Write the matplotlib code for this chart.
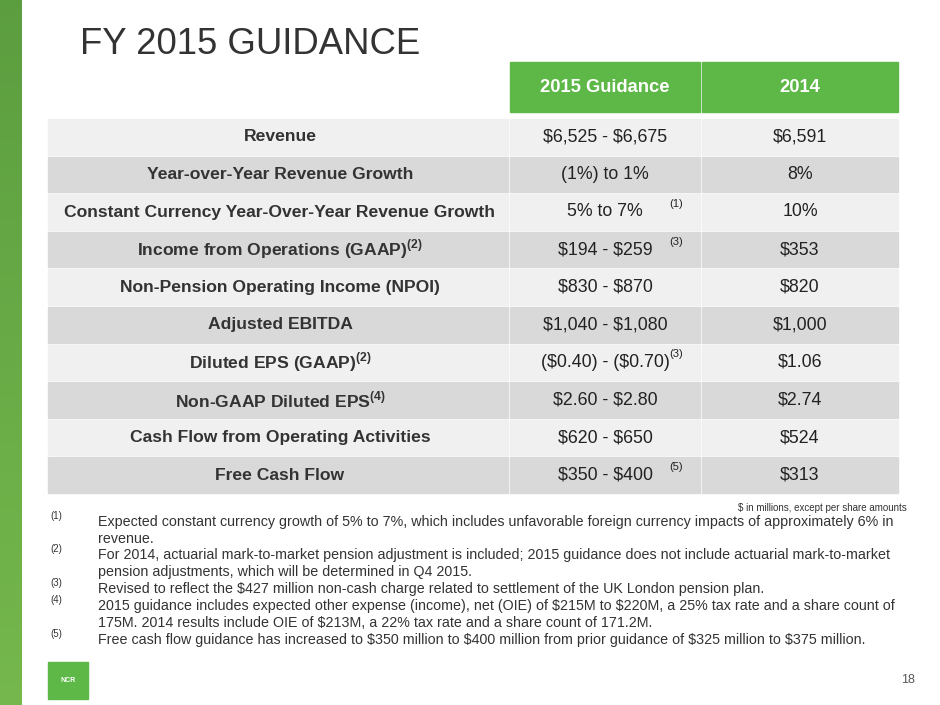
import matplotlib
matplotlib.use("Agg")
import matplotlib.pyplot as plt
from matplotlib.patches import Rectangle
import numpy as np

plt.rcParams['font.family'] = ['Liberation Sans', 'DejaVu Sans']
plt.rcParams['mathtext.fontset'] = 'custom'
plt.rcParams['mathtext.rm'] = 'Liberation Sans'
plt.rcParams['mathtext.bf'] = 'Liberation Sans:bold'

metrics = ["Revenue", "Year-over-Year Revenue Growth",
           "Constant Currency Year-Over-Year Revenue Growth",
           "Income from Operations (GAAP)$^{\\mathbf{(2)}}$",
           "Non-Pension Operating Income (NPOI)", "Adjusted EBITDA",
           "Diluted EPS (GAAP)$^{\\mathbf{(2)}}$", "Non-GAAP Diluted EPS$^{\\mathbf{(4)}}$",
           "Cash Flow from Operating Activities", "Free Cash Flow"]
guidance_2015 = ["\\$6,525 - \\$6,675", "(1%) to 1%", "5% to 7%", "\\$194 - \\$259",
                 "\\$830 - \\$870", "\\$1,040 - \\$1,080", "(\\$0.40) - (\\$0.70)",
                 "\\$2.60 - \\$2.80", "\\$620 - \\$650", "\\$350 - \\$400"]
guidance_notes = ["", "", "(1)", "(3)", "", "", "(3)", "", "", "(5)"]
actual_2014 = ["\\$6,591", "8%", "10%", "\\$353", "\\$820", "\\$1,000", "\\$1.06",
               "\\$2.74", "\\$524", "\\$313"]
headers = ["2015 Guidance", "2014"]
footnotes = [
    ("(1)", ["Expected constant currency growth of 5% to 7%, which includes unfavorable foreign currency impacts of approximately 6% in",
             "revenue."]),
    ("(2)", ["For 2014, actuarial mark-to-market pension adjustment is included; 2015 guidance does not include actuarial mark-to-market",
             "pension adjustments, which will be determined in Q4 2015."]),
    ("(3)", ["Revised to reflect the \\$427 million non-cash charge related to settlement of the UK London pension plan."]),
    ("(4)", ["2015 guidance includes expected other expense (income), net (OIE) of \\$215M to \\$220M, a 25% tax rate and a share count of",
             "175M. 2014 results include OIE of \\$213M, a 22% tax rate and a share count of 171.2M."]),
    ("(5)", ["Free cash flow guidance has increased to \\$350 million to \\$400 million from prior guidance of \\$325 million to \\$375 million."]),
]

GREEN = "#5db847"
fig = plt.figure(figsize=(9.4, 7.05), dpi=100)
ax = fig.add_axes([0, 0, 1, 1])
ax.set_xlim(0, 940); ax.set_ylim(705, 0); ax.axis('off')

grad = np.linspace(0, 1, 100).reshape(-1, 1)
ax.imshow(np.dstack([0.36 + 0.1*grad, 0.62 + 0.1*grad, 0.25 + 0.05*grad]),
          extent=(0, 22, 705, 0), aspect='auto')

ax.text(80, 44, "FY 2015 GUIDANCE", fontsize=26.3, color="#333333", va='center', ha='left')

cols = [(48, 508), (510, 700), (702, 898)]
for (x0, x1), h in zip(cols[1:], headers):
    ax.add_patch(Rectangle((x0, 62), x1 - x0, 50, color=GREEN))
    ax.text((x0 + x1) / 2, 87, h, color='white', fontsize=13.2, fontweight='bold', ha='center', va='center')

top, pitch = 119, 37.6
for i in range(len(metrics)):
    y0 = top + i * pitch
    c = "#f0f0f0" if i % 2 == 0 else "#d9d9d9"
    for x0, x1 in cols:
        ax.add_patch(Rectangle((x0, y0), x1 - x0, pitch - 2, color=c))
    yc = y0 + (pitch - 2) / 2
    ax.text((cols[0][0] + cols[0][1]) / 2 + 2, yc, metrics[i], fontsize=12.6, fontweight='bold',
            color="#333333", ha='center', va='center')
    ax.text(605, yc, guidance_2015[i], fontsize=12.8, color="#222222", ha='center', va='center')
    if guidance_notes[i]:
        ax.text(669, yc - 8, guidance_notes[i], fontsize=8, color="#222222", ha='left', va='center')
    ax.text(800, yc, actual_2014[i], fontsize=12.8, color="#222222", ha='center', va='center')

ax.text(907, 508, "\\$ in millions, except per share amounts", fontsize=7, color="#333333",
        ha='right', va='center')

line = 0
for m, lines in footnotes:
    y = 521.7 + 16.9 * line
    ax.text(50, y - 6, m, fontsize=7, color="#333333", ha='left', va='center')
    for t in lines:
        ax.text(98, 521.7 + 16.9 * line, t, fontsize=10.3, color="#333333", ha='left', va='center')
        line += 1

ax.add_patch(Rectangle((48, 662), 40, 37, color=GREEN))
ax.text(68, 681, "NCR", color='white', fontsize=5, fontweight='bold', ha='center', va='center')
ax.text(915, 680, "18", fontsize=9, color="#555555", ha='right', va='center')

fig.savefig("out.png", dpi=100)
